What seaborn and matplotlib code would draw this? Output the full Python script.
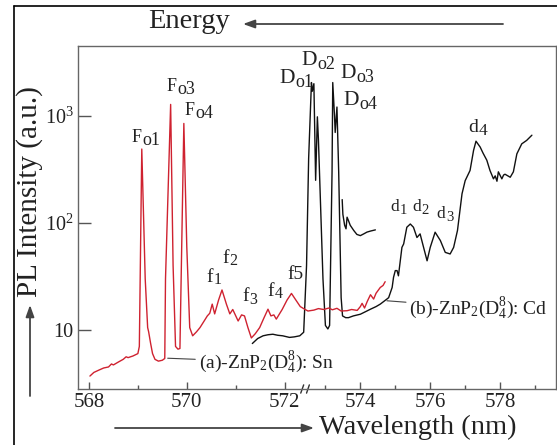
import numpy as np
import pandas as pd
import matplotlib
matplotlib.use("Agg")
import matplotlib.pyplot as plt
from matplotlib.ticker import NullLocator
import seaborn as sns

# ---------------- data ----------------
red_wl = [568.02, 568.10, 568.20, 568.30, 568.40, 568.46, 568.50, 568.60, 568.70, 568.76,
          568.80, 568.90, 569.00, 569.03, 569.08, 569.15, 569.20, 569.22, 569.26, 569.30,
          569.35, 569.42, 569.50, 569.55, 569.565, 569.67, 569.72, 569.77, 569.82, 569.86,
          569.94, 570.00, 570.06, 570.12, 570.20, 570.27, 570.35, 570.42, 570.47, 570.52,
          570.57, 570.65, 570.72, 570.81, 570.88, 570.94, 571.05, 571.12, 571.18, 571.25,
          571.32, 571.40, 571.49, 571.58, 571.66, 571.72, 571.78, 571.83, 571.95, 572.05,
          572.14, 572.24, 572.32, 572.41, 572.50, 572.67, 572.80, 572.95, 573.10, 573.20,
          573.33, 573.45, 573.62, 573.75, 573.91, 574.00, 574.05, 574.12, 574.20, 574.29,
          574.38, 574.45, 574.57, 574.65, 574.71]
red_int = [3.7, 4.0, 4.2, 4.4, 4.5, 4.8, 4.7, 5.0, 5.3, 5.6,
           5.5, 5.7, 6.0, 7.0, 490, 30, 10.5, 9.6, 7.5, 6.0,
           5.3, 5.1, 5.2, 5.4, 30, 1280, 40, 7.0, 6.6, 6.7,
           850, 60, 10.5, 8.8, 9.6, 10.5, 12.0, 13.5, 14.3, 17.4,
           14.1, 19.0, 23.6, 17.4, 14.1, 15.5, 12.1, 13.8, 13.5, 10.5,
           8.4, 9.2, 10.5, 13.0, 15.6, 13.5, 13.8, 12.6, 15.5, 19.0,
           21.9, 18.7, 16.5, 15.6, 15.0, 15.3, 15.8, 15.5, 16.0, 15.4,
           15.9, 15.0, 15.1, 15.5, 15.2, 16.5, 17.7, 16.0, 18.5, 21.3,
           19.4, 22.0, 24.9, 26.0, 28.2]

black_wl = [571.34, 571.45, 571.56, 571.66, 571.76, 571.86, 571.96, 572.10, 572.20, 572.31,
            572.39, 572.46, 572.52, 572.60, 572.625, 572.67, 572.72, 572.77, 572.80, 572.93,
            573.00, 573.07, 573.12, 573.19, 573.21, 573.26, 573.28, 573.33, 573.38, 573.45,
            573.49, 573.58, 573.66, 573.80, 574.00, 574.15, 574.29, 574.45, 574.57, 574.76,
            574.81, 574.91, 574.95, 575.00, 575.05, 575.09, 575.19, 575.24, 575.33, 575.43,
            575.52, 575.62, 575.71, 575.81, 575.91, 576.00, 576.14, 576.29, 576.43, 576.57,
            576.67, 576.78, 576.91, 577.00, 577.14, 577.24, 577.31, 577.43, 577.51, 577.62,
            577.71, 577.81, 577.86, 577.91, 577.95, 578.05, 578.10, 578.14, 578.29, 578.38,
            578.48, 578.62, 578.76, 578.91]
black_int = [7.45, 8.3, 8.8, 9.0, 9.1, 8.9, 8.8, 8.5, 8.6, 8.8,
             9.5, 40, 400, 2050, 1700, 2000, 250, 980, 600, 30,
             11, 10.2, 11, 300, 2050, 1000, 700, 1210, 300, 20,
             13.5, 13.0, 13.0, 13.5, 14.0, 14.8, 15.6, 16.5, 17.4, 19.4,
             20, 24.9, 31, 35.8, 35.8, 32, 59, 63.6, 91, 97.6,
             91, 73, 78.9, 59, 44.2, 59, 81.8, 68.4, 53, 51.2,
             59, 84.9, 187, 248, 309, 475, 580, 511, 450, 385,
             309, 258, 275, 245, 300, 258, 280, 285, 267, 300,
             442, 548, 590, 660]

tail_wl = [573.48, 573.50, 573.55, 573.59, 573.62, 573.66, 573.71, 573.81, 573.90, 574.00,
           574.10, 574.19, 574.30, 574.43]
tail_int = [165, 120, 95, 88, 113, 105, 95, 85, 78, 76, 79, 82, 84, 86]

xticks = [568, 570, 572, 574, 576, 578]
xtick_labels = ["568", "570", "572", "574", "576", "578"]
xminor = [569, 571, 573, 575, 577, 579]
yticks = [10, 100, 1000]
ytick_labels = ["10", r"$\mathregular{10^2}$", r"$\mathregular{10^3}$"]

# peak labels: main letter, its subscript, anchor (left edge, baseline)
label_main = ["F", "F", "F", "D", "D", "D", "D",
              "f", "f", "f", "f", "f5", "d", "d", "d", "d"]
label_sub = ["o1", "o3", "o4", "o1", "o2", "o3", "o4",
             "1", "2", "3", "4", "", "1", "2", "3", "4"]
label_wl = [568.88, 569.59, 569.96, 571.90, 572.35, 573.43, 573.51,
            570.41, 570.73, 571.14, 571.65, 572.06, 574.86, 575.48, 576.19, 577.09]
label_int = [566, 1701, 1014, 2024, 2979, 2249, 1256,
             28.2, 42.5, 18.7, 20.9, 30.1, 130, 130, 112, 702]
label_main_size = [13, 13, 13, 15.5, 15.5, 15.5, 15.5,
                   14, 14, 14, 14, 14, 12.5, 12.5, 12.5, 14]
label_sub_size = [13, 13, 13, 13, 13, 13, 13,
                  11.5, 11.5, 11.5, 11.5, 11.5, 10.5, 10.5, 10.5, 12.5]

sample_labels = [r"(a)-ZnP$_{\mathregular{2}}$(D$_{\mathregular{4}}^{\mathregular{8}}$): Sn",
                 r"(b)-ZnP$_{\mathregular{2}}$(D$_{\mathregular{4}}^{\mathregular{8}}$): Cd"]
sample_text_wl = [570.24, 575.40]
sample_text_int = [5.0, 16.1]
sample_point_wl = [569.61, 574.76]
sample_point_int = [5.43, 18.7]

BREAK = 572.42
K = 35.0 / 49.0

# ---------------- style ----------------
sns.set_theme(style="ticks")
plt.rcParams["font.family"] = ["Liberation Serif", "DejaVu Serif"]
plt.rcParams["mathtext.fontset"] = "custom"
plt.rcParams["mathtext.rm"] = "Liberation Serif"
plt.rcParams["mathtext.it"] = "Liberation Serif:italic"
plt.rcParams["mathtext.bf"] = "Liberation Serif:bold"

fig = plt.figure(figsize=(5.57, 4.45), dpi=100)
fig.patch.set_facecolor("white")
ax = fig.add_axes([78 / 557, 56 / 445, 478 / 557, (389 - 45.7) / 445])

RED = "#cf2230"
BLK = "#111111"
TXT = "#222222"

df_a = pd.DataFrame({"wl": red_wl, "I": red_int})
df_b = pd.DataFrame({"wl": black_wl, "I": black_int})
df_c = pd.DataFrame({"wl": tail_wl, "I": tail_int})

sns.lineplot(data=df_b, x="wl", y="I", sort=False, estimator=None, color=BLK, lw=1.0, ax=ax)
sns.lineplot(data=df_c, x="wl", y="I", sort=False, estimator=None, color=BLK, lw=1.0, ax=ax)
sns.lineplot(data=df_a, x="wl", y="I", sort=False, estimator=None, color=RED, lw=1.0, ax=ax)


def fwd(w):
    w = np.asarray(w, dtype=float)
    return np.where(w <= BREAK, w, BREAK + (w - BREAK) * K)


def inv(t):
    t = np.asarray(t, dtype=float)
    return np.where(t <= BREAK, t, BREAK + (t - BREAK) / K)


ax.set_xscale("function", functions=(fwd, inv))
ax.set_yscale("log")
ax.set_xlim(567.776, 579.6)
ax.set_ylim(2.8, 4530)

ax.set_xticks(xticks, xtick_labels)
ax.set_xticks(xminor, minor=True)
ax.set_yticks(yticks, ytick_labels)
ax.yaxis.set_minor_locator(NullLocator())

ax.tick_params(axis="x", which="major", direction="in", length=5, width=1, color="#555555",
               labelsize=15, pad=3, labelcolor=TXT)
ax.tick_params(axis="x", which="minor", direction="in", length=3, width=1, color="#555555")
ax.tick_params(axis="y", which="major", direction="in", length=9.5, width=1, color="#555555",
               labelsize=14.5, pad=3, labelcolor=TXT)
for s in ax.spines.values():
    s.set_color("#666666")
    s.set_linewidth(1.0)
ax.set_xlabel("")
ax.set_ylabel("")

# axis-break marks on the bottom spine
xt = ax.get_xaxis_transform()
ax.plot([572.33, 572.39], [-0.012, 0.012], color="#333333", lw=1.0, transform=xt, clip_on=False)
ax.plot([572.46, 572.54], [-0.012, 0.012], color="#333333", lw=1.0, transform=xt, clip_on=False)

# peak labels (letter + large subscript)
for m, sb, w, v, fm, fsub in zip(label_main, label_sub, label_wl, label_int,
                                 label_main_size, label_sub_size):
    tm = ax.text(w, v, m, ha="left", va="baseline", fontsize=fm, color=TXT)
    if sb:
        ax.annotate(sb, xy=(1, 0), xycoords=tm, xytext=(0.3, -2), textcoords="offset points",
                    ha="left", va="bottom", fontsize=fsub, color=TXT)

for t, tw, tv, pw, pv in zip(sample_labels, sample_text_wl, sample_text_int,
                             sample_point_wl, sample_point_int):
    ax.annotate(t, xy=(pw, pv), xytext=(tw, tv), ha="left", va="center", fontsize=14,
                color=TXT,
                arrowprops=dict(arrowstyle="-", color="#444444", lw=0.8, shrinkA=0, shrinkB=0))

# figure decorations
fig.text(30 / 557, 1 - 192 / 445, "PL Intensity (a.u.)", rotation=90, ha="center", va="center",
         fontsize=21, color=TXT)
fig.text(418 / 557, 1 - 427 / 445, "Wavelength (nm)", ha="center", va="center",
         fontsize=20.5, color=TXT)
fig.text(189 / 557, 1 - 22 / 445, "Energy", ha="center", va="center",
         fontsize=20.5, color=TXT)

arrow_kw = dict(arrowstyle="-|>,head_length=0.5,head_width=0.18", color="#444444", lw=1.3,
                shrinkA=0, shrinkB=0)
fig.add_artist(matplotlib.patches.FancyArrowPatch((503 / 557, 1 - 24 / 445), (243 / 557, 1 - 24 / 445),
                                                  transform=fig.transFigure, mutation_scale=14,
                                                  **arrow_kw))
fig.add_artist(matplotlib.patches.FancyArrowPatch((115 / 557, 1 - 428 / 445), (314 / 557, 1 - 428 / 445),
                                                  transform=fig.transFigure, mutation_scale=14,
                                                  **arrow_kw))
fig.add_artist(matplotlib.patches.FancyArrowPatch((30 / 557, 1 - 396 / 445), (30 / 557, 1 - 305 / 445),
                                                  transform=fig.transFigure, mutation_scale=14,
                                                  **arrow_kw))

# outer frame (cut off at right and bottom)
fig.add_artist(matplotlib.lines.Line2D([14 / 557, 14 / 557], [0, 1 - 6 / 445],
                                       transform=fig.transFigure, color="black", lw=1.2))
fig.add_artist(matplotlib.lines.Line2D([14 / 557, 1], [1 - 6 / 445, 1 - 6 / 445],
                                       transform=fig.transFigure, color="black", lw=1.2))

fig.savefig("out.png", dpi=100)
